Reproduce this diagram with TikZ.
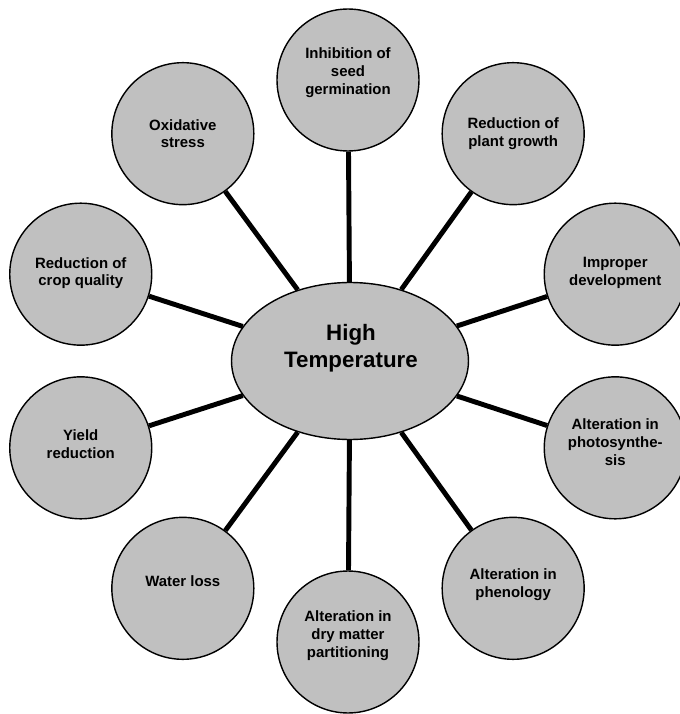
\documentclass[tikz,border=0pt]{standalone}
\usepackage{fontspec}
\setmainfont{Liberation Sans}
\usetikzlibrary{shapes.geometric}
\definecolor{bubblegray}{HTML}{C0C0C0}

\begin{document}
\begin{tikzpicture}[x=0.02cm,y=0.02cm,
    bubble/.style={circle,draw,line width=0.8pt,fill=bubblegray,minimum size=2.84cm,inner sep=0pt},
    hub/.style={ellipse,draw,line width=0.8pt,fill=bubblegray,minimum width=4.74cm,minimum height=3.14cm,inner sep=0pt},
    bubtext/.style={align=center,font=\bfseries\fontsize{8.5}{10.2}\selectfont},
    spoke/.style={line width=2.8pt}]

    \newcommand*{\spokelen}{281}%

    \useasboundingbox (-348,-353) rectangle (332,361);

    \node [hub] (heat) at (2,0) {};
    \node [align=center,font=\bfseries\fontsize{12.7}{15.4}\selectfont] (heat-t) at (3,13) {High\\Temperature};

  % ten effects round the hub, 36 degrees apart
  \foreach \ang/\nm/\up/\txt in {90/seed/7/{Inhibition of\\seed\\germination},
                                  54/growth/0/{Reduction of\\plant growth},
                                  18/develop/1/{Improper\\development},
                                  -18/photo/6/{Alteration in\\photosynthe-\\sis},
                                  -54/pheno/4/{Alteration in\\phenology},
                                  -90/drymatter/6/{Alteration in\\dry matter\\partitioning},
                                  -126/water/7/{Water loss},
                                  -162/yield/4/{Yield\\reduction},
                                  162/quality/1/{Reduction of\\crop quality},
                                  126/oxid/0/{Oxidative\\stress}}
       {\node [bubble] (\nm) at (\ang:\spokelen) {};
        \node [bubtext] (\nm-t) at ([yshift=\up*0.02cm]\nm.center) {\txt};
        \draw [spoke] (heat) -- (\nm);}

\end{tikzpicture}
\end{document}
